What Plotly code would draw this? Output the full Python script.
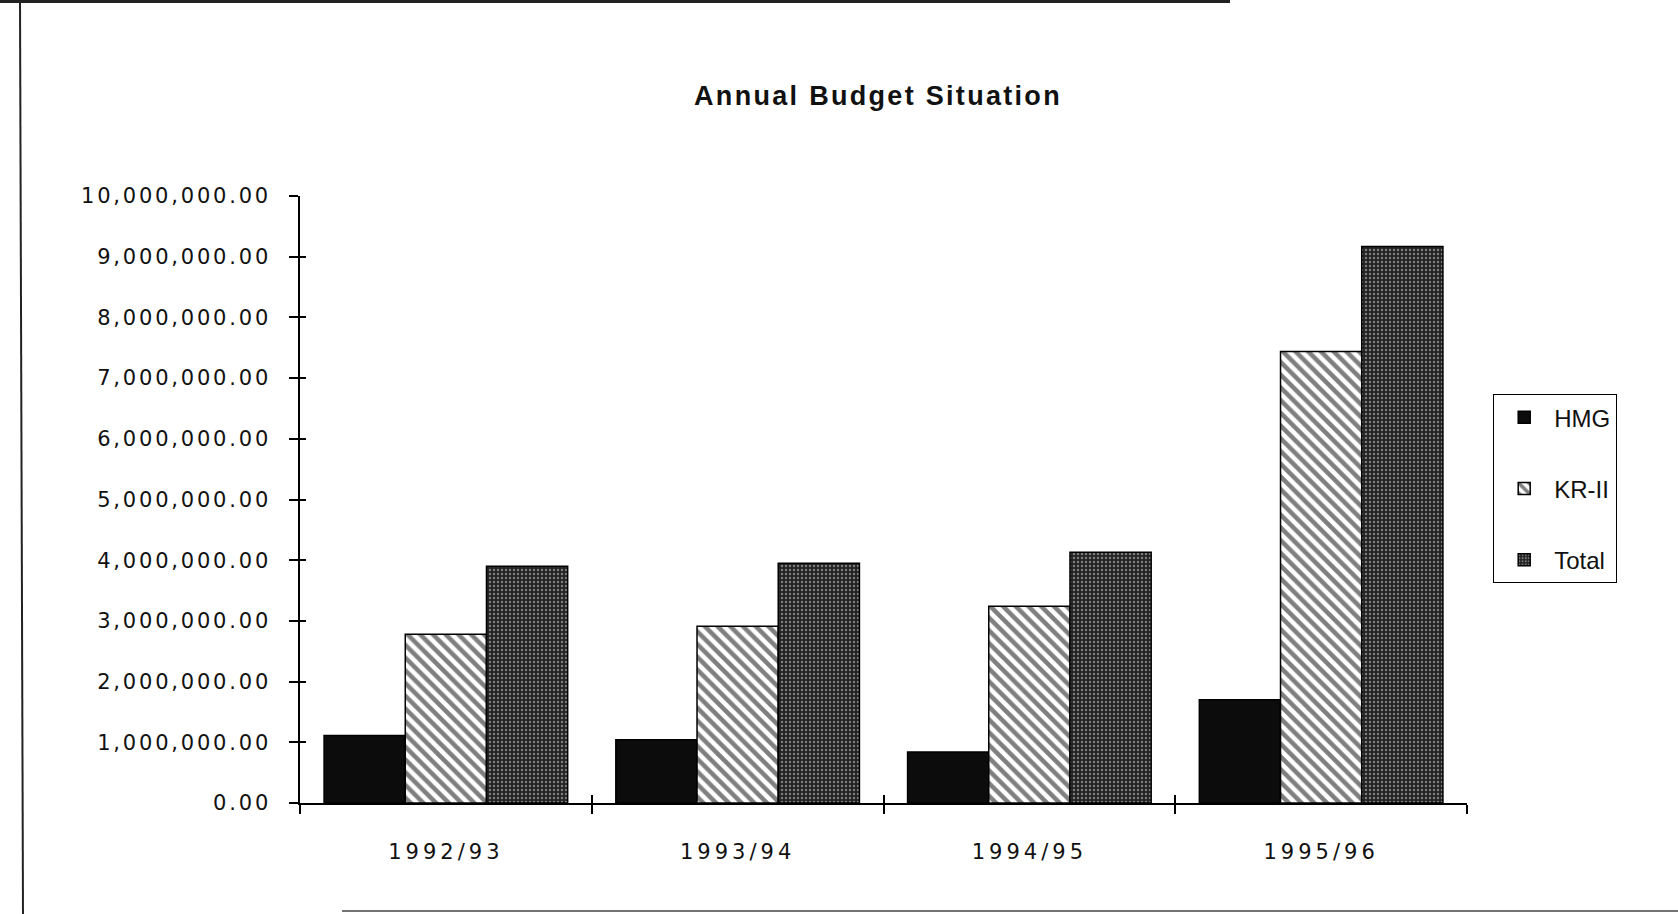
import plotly.graph_objects as go

# ---- data ----
categories = ["1992/93", "1993/94", "1994/95", "1995/96"]
hmg_values = [1110000, 1040000, 840000, 1700000]
kr2_values = [2780000, 2910000, 3240000, 7440000]
total_values = [3900000, 3950000, 4130000, 9170000]
series_names = ["HMG", "KR-II", "Total"]
y_tick_values = [0, 1000000, 2000000, 3000000, 4000000, 5000000,
                 6000000, 7000000, 8000000, 9000000, 10000000]
y_tick_labels = ["0.00", "1,000,000.00", "2,000,000.00", "3,000,000.00",
                 "4,000,000.00", "5,000,000.00", "6,000,000.00",
                 "7,000,000.00", "8,000,000.00", "9,000,000.00",
                 "10,000,000.00"]
title_text = "Annual Budget Situation"


def spaced(s, px):
    return '<span style="letter-spacing:%spx">%s</span>' % (px, s)


W, H = 1678, 914
L, R, T, B = 300, 211, 196, 111
PW, PH = W - L - R, H - T - B


def px_x(px):
    return (px - L) / PW


def px_y(py):
    return (H - B - py) / PH


fig = go.Figure()

fig.add_trace(go.Bar(
    name=series_names[0], x=categories, y=hmg_values, legendgroup="a",
    marker=dict(color="#0c0c0c", line=dict(color="black", width=1.5)),
))
fig.add_trace(go.Bar(
    name=series_names[1], x=categories, y=kr2_values, legendgroup="b",
    marker=dict(color="white", line=dict(color="black", width=1.5),
                pattern=dict(shape="\\", fgcolor="black", bgcolor="white",
                             size=9, solidity=0.5)),
))
fig.add_trace(go.Bar(
    name=series_names[2], x=categories, y=total_values, legendgroup="c",
    marker=dict(color="#3a3a3a", line=dict(color="black", width=1.5),
                pattern=dict(shape=".", fgcolor="#d8d8d8", bgcolor="#222222",
                             size=4, solidity=0.3)),
))
# empty helper trace so the overlaid tick-only axes are drawn
fig.add_trace(go.Scatter(
    x=[None], y=[None], xaxis="x2", yaxis="y2", mode="markers",
    showlegend=False, hoverinfo="skip",
))

tick_font = dict(family="DejaVu Sans", size=21, color="#111")

fig.update_layout(
    width=W, height=H,
    margin=dict(l=L, r=R, t=T, b=B, autoexpand=False),
    paper_bgcolor="white", plot_bgcolor="white",
    barmode="group", bargap=0.165, bargroupgap=0,
    title=dict(text=spaced(title_text, 2.3), x=878 / W, xanchor="center",
               y=1 - 96 / H, yanchor="middle",
               font=dict(family="Liberation Sans", size=27, color="#111",
                         weight="bold")),
    xaxis=dict(
        type="category", categoryorder="array", categoryarray=categories,
        range=[-0.5, 3.5], tickson="boundaries",
        tickvals=categories, ticktext=[spaced(c, 4) for c in categories],
        ticks="outside", ticklen=9, tickwidth=1.5, tickcolor="black",
        showline=True, linecolor="black", linewidth=1.5,
        showgrid=False, zeroline=False,
        tickfont=tick_font, ticklabelstandoff=29,
    ),
    yaxis=dict(
        range=[0, 10000000], tickvals=y_tick_values,
        ticktext=[spaced(t, 2.8) for t in y_tick_labels],
        ticks="outside", ticklen=9, tickwidth=1.5, tickcolor="black",
        showline=True, linecolor="black", linewidth=1.5,
        showgrid=False, zeroline=False,
        tickfont=tick_font, ticklabelstandoff=14,
    ),
    xaxis2=dict(
        type="linear", overlaying="x", anchor="y", range=[-0.5, 3.5],
        tickmode="linear", tick0=0.5, dtick=1,
        ticks="inside", ticklen=8, tickwidth=1.5, tickcolor="black",
        showticklabels=False, showgrid=False, zeroline=False, showline=False,
        fixedrange=True,
    ),
    yaxis2=dict(
        type="linear", overlaying="y", anchor="x", side="left",
        range=[0, 10000000], tickvals=y_tick_values,
        ticks="inside", ticklen=6, tickwidth=1.5, tickcolor="black",
        showticklabels=False, showgrid=False, zeroline=False, showline=False,
        fixedrange=True,
    ),
    showlegend=True,
    legend=dict(
        x=px_x(1493), y=px_y(394), xanchor="left", yanchor="top",
        bordercolor="black", borderwidth=1.2, bgcolor="white",
        font=dict(family="Liberation Sans", size=24, color="#111"),
        tracegroupgap=37, itemwidth=50, traceorder="grouped",
    ),
    shapes=[
        dict(type="line", xref="paper", yref="paper",
             x0=px_x(20), x1=px_x(23), y0=px_y(0), y1=px_y(914),
             line=dict(color="#222", width=2)),
        dict(type="line", xref="paper", yref="paper",
             x0=px_x(0), x1=px_x(1230), y0=px_y(1.5), y1=px_y(1.5),
             line=dict(color="#222", width=3)),
        dict(type="line", xref="paper", yref="paper",
             x0=px_x(342), x1=px_x(1678), y0=px_y(911), y1=px_y(911),
             line=dict(color="#444", width=1.5)),
    ],
)

fig.write_html("out.html")
